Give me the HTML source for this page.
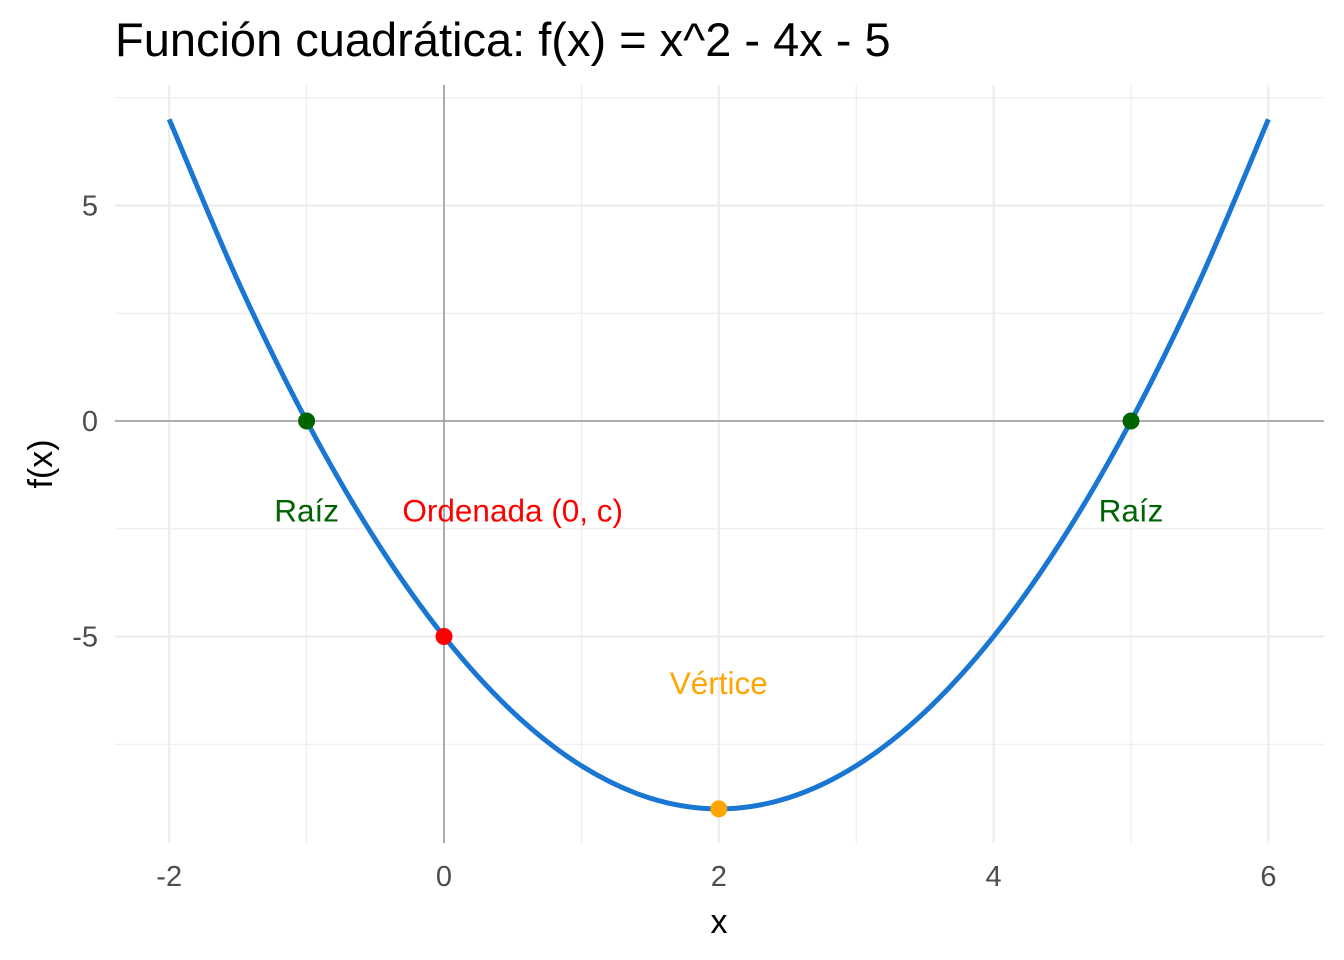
<!DOCTYPE html>
<html><head><meta charset="utf-8"><style>
body{margin:0;background:#fff}
svg{display:block;font-family:"Liberation Sans",sans-serif}
</style></head><body>
<svg id="chart" width="1344" height="960">
<text x="115" y="56" font-size="47" fill="#000">Función cuadrática: f(x) = x^2 - 4x - 5</text>
<g id="grid"></g><g id="axes"></g><g id="series"></g><g id="labels"></g>
<text x="719" y="933" font-size="34" text-anchor="middle">x</text>
<text transform="translate(52,464) rotate(-90)" font-size="34" text-anchor="middle">f(x)</text>
</svg>
<script>
const xs=[-2,-1.5,-1,-0.5,0,0.5,1,1.5,2,2.5,3,3.5,4,4.5,5,5.5,6];
const ys=[7,3.25,0,-2.75,-5,-6.75,-8,-8.75,-9,-8.75,-8,-6.75,-5,-2.75,0,3.25,7];
const xTicks=[-2,0,2,4,6];
const yTicks=[-5,0,5];
const xMinor=[-1,1,3,5];
const yMinor=[-7.5,-2.5,2.5,7.5];
const ptX=[-1,5,0,2];
const ptY=[0,0,-5,-9];
const ptColors=["#006400","#006400","#ff0000","#ffa500"];
const ptNames=["root-left","root-right","y-intercept","vertex"];
const lblText=["Raíz","Raíz","Ordenada (0, c)","Vértice"];
const lblX=[-1,5,0.5,2];
const lblY=[-2.1,-2.1,-2.1,-6.1];
const lblColors=["#006400","#006400","#ff0000","#ffa500"];
const L=115,R=1324,T=85,B=843;
const sx=v=>444+v*137.4;
const sy=v=>421-v*43.1;
const NS="http://www.w3.org/2000/svg";
function mk(tag,parent,attrs){const e=document.createElementNS(NS,tag);for(const k in attrs)e.setAttribute(k,attrs[k]);document.getElementById(parent).appendChild(e);return e;}
xMinor.forEach(v=>{const e=mk('line','grid',{x1:sx(v),x2:sx(v),y1:T,y2:B,stroke:'#ebebeb','stroke-width':1});

});
yMinor.forEach(v=>{const e=mk('line','grid',{x1:L,x2:R,y1:sy(v),y2:sy(v),stroke:'#ebebeb','stroke-width':1});

});
xTicks.forEach(v=>{const e=mk('line','grid',{x1:sx(v),x2:sx(v),y1:T,y2:B,stroke:'#ebebeb','stroke-width':2});


const t=mk('text','grid',{x:sx(v),y:886,'font-size':29,fill:'#4d4d4d','text-anchor':'middle'});t.textContent=v;

});
yTicks.forEach(v=>{const e=mk('line','grid',{x1:L,x2:R,y1:sy(v),y2:sy(v),stroke:'#ebebeb','stroke-width':2});


const t=mk('text','grid',{x:98,y:sy(v)+10,'font-size':29,fill:'#4d4d4d','text-anchor':'end'});t.textContent=v;

});
let a=mk('line','axes',{x1:L,x2:R,y1:sy(0),y2:sy(0),stroke:'#999','stroke-width':1.5});


a=mk('line','axes',{x1:sx(0),x2:sx(0),y1:T,y2:B,stroke:'#999','stroke-width':1.5});


let d=`M${sx(xs[0])},${sy(ys[0])}`;
for(let i=0;i<xs.length-1;i++){
 const p0=[sx(xs[Math.max(i-1,0)]),sy(ys[Math.max(i-1,0)])],p1=[sx(xs[i]),sy(ys[i])],p2=[sx(xs[i+1]),sy(ys[i+1])],p3=[sx(xs[Math.min(i+2,xs.length-1)]),sy(ys[Math.min(i+2,xs.length-1)])];
 const c1=[p1[0]+(p2[0]-p0[0])/6,p1[1]+(p2[1]-p0[1])/6],c2=[p2[0]-(p3[0]-p1[0])/6,p2[1]-(p3[1]-p1[1])/6];
 d+=` C${c1[0]},${c1[1]} ${c2[0]},${c2[1]} ${p2[0]},${p2[1]}`;}
const line=mk('path','series',{d:d,fill:'none',stroke:'#1976d2','stroke-width':5});


ptX.forEach((v,i)=>{const c=mk('circle','series',{cx:sx(v),cy:sy(ptY[i]),r:8.5,fill:ptColors[i]});

});
lblText.forEach((s,i)=>{const t=mk('text','labels',{x:sx(lblX[i]),y:sy(lblY[i])+10,'font-size':31.5,fill:lblColors[i],'text-anchor':'middle'});t.textContent=s;

});
</script>
</body></html>
